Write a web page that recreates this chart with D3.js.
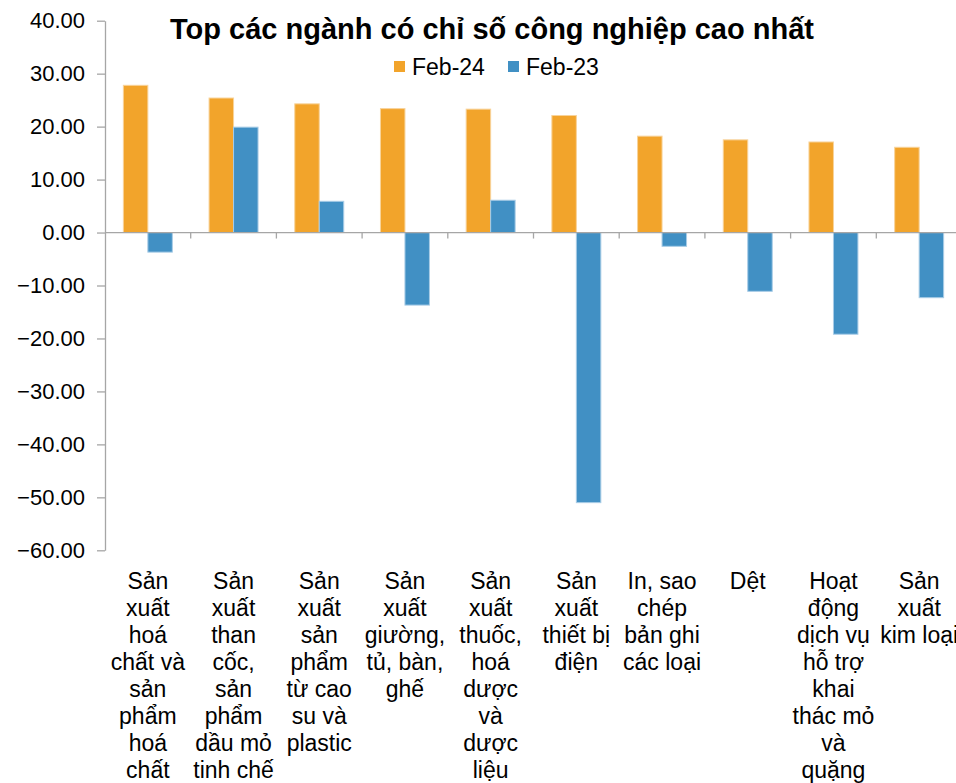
<!DOCTYPE html>
<html>
<head>
<meta charset="utf-8">
<script src="https://cdn.jsdelivr.net/npm/d3@7"></script>
<style>
  body { margin: 0; background: #fff; }
  svg { display: block; font-family: "Liberation Sans", Arial, sans-serif; }
</style>
</head>
<body>
<svg id="chart"></svg>
<script>
// Categories (line breaks as in the original labels)
const categories = [
  "Sản\nxuất\nhoá\nchất và\nsản\nphẩm\nhoá\nchất",
  "Sản\nxuất\nthan\ncốc,\nsản\nphẩm\ndầu mỏ\ntinh chế",
  "Sản\nxuất\nsản\nphẩm\ntừ cao\nsu và\nplastic",
  "Sản\nxuất\ngiường,\ntủ, bàn,\nghế",
  "Sản\nxuất\nthuốc,\nhoá\ndược\nvà\ndược\nliệu",
  "Sản\nxuất\nthiết bị\nđiện",
  "In, sao\nchép\nbản ghi\ncác loại",
  "Dệt",
  "Hoạt\nđộng\ndịch vụ\nhỗ trợ\nkhai\nthác mỏ\nvà\nquặng",
  "Sản\nxuất\nkim loại"
];

const seriesNames = ["Feb-24", "Feb-23"];
const feb24 = [27.8, 25.4, 24.3, 23.4, 23.3, 22.1, 18.2, 17.5, 17.1, 16.1];
const feb23 = [-3.7, 19.9, 5.9, -13.7, 6.1, -51.0, -2.6, -11.1, -19.2, -12.3];
const yTicks = [40, 30, 20, 10, 0, -10, -20, -30, -40, -50, -60];

const colors = { "Feb-24": "#F2A42B", "Feb-23": "#4190C4" };
const strokes = { "Feb-24": "#F8D39A", "Feb-23": "#A8CCE6" };

const width = 956, height = 783;
const plotLeft = 105, plotRight = 962;

const svg = d3.select("#chart").attr("width", width).attr("height", height);

const x0 = d3.scaleBand()
  .domain(d3.range(categories.length))
  .range([plotLeft, plotRight])
  .paddingInner(0).paddingOuter(0);

const x1 = d3.scaleBand()
  .domain(seriesNames)
  .range([0, x0.bandwidth()])
  .paddingInner(0).paddingOuter(0.75);

const y = d3.scaleLinear().domain([-60, 40]).range([550.3, 20.7]);

// Bars
const rows = categories.map((c, i) => ({ i, values: [
  { key: "Feb-24", v: feb24[i] }, { key: "Feb-23", v: feb23[i] } ] }));

svg.append("g").selectAll("g")
  .data(rows)
  .enter().append("g")
  .attr("transform", d => `translate(${x0(d.i)},0)`)
  .selectAll("rect")
  .data(d => d.values)
  .enter().append("rect")
  .attr("x", d => x1(d.key))
  .attr("width", x1.bandwidth())
  .attr("y", d => y(Math.max(0, d.v)))
  .attr("height", d => Math.abs(y(d.v) - y(0)))
  .attr("fill", d => colors[d.key])
  .attr("stroke", d => strokes[d.key])
  .attr("stroke-width", 1);

// Y axis
const yAxis = svg.append("g")
  .attr("transform", `translate(${plotLeft},0)`)
  .call(d3.axisLeft(y).tickValues(yTicks).tickFormat(d3.format(".2f")).tickSize(8).tickSizeOuter(0).tickPadding(12));
yAxis.select(".domain").attr("stroke", "#a6a6a6").attr("stroke-width", 1.3);
yAxis.selectAll(".tick line").attr("stroke", "#a6a6a6").attr("stroke-width", 1.3);
yAxis.selectAll("text")
  .attr("fill", "#000")
  .style("font-size", "22px")
  .style("font-family", "'Liberation Sans', Arial, sans-serif");

// Zero baseline with category ticks
const zeroY = y(0);
svg.append("line")
  .attr("x1", plotLeft).attr("x2", plotRight)
  .attr("y1", zeroY).attr("y2", zeroY)
  .attr("stroke", "#a6a6a6").attr("stroke-width", 1.3);
svg.append("g").selectAll("line")
  .data(d3.range(1, categories.length + 1))
  .enter().append("line")
  .attr("x1", d => plotLeft + d * x0.step())
  .attr("x2", d => plotLeft + d * x0.step())
  .attr("y1", zeroY).attr("y2", zeroY + 6)
  .attr("stroke", "#a6a6a6").attr("stroke-width", 1.3);

// Category labels below the plot
const labels = svg.append("g").selectAll("text")
  .data(categories)
  .enter().append("text")
  .attr("text-anchor", "middle")
  .attr("x", (d, i) => x0(i) + x0.bandwidth() / 2)
  .attr("y", 589)
  .style("font-size", "23px")
  .attr("fill", "#000");
labels.selectAll("tspan")
  .data(d => d.split("\n"))
  .enter().append("tspan")
  .attr("x", function () { return this.parentNode.getAttribute("x"); })
  .attr("dy", (d, i) => i === 0 ? 0 : 27)
  .text(d => d);

// Title
svg.append("text")
  .attr("x", 492).attr("y", 39)
  .attr("text-anchor", "middle")
  .style("font-size", "29px")
  .style("font-weight", "bold")
  .text("Top các ngành có chỉ số công nghiệp cao nhất");

// Legend
const legend = svg.append("g");
const legendX = [394, 508];
seriesNames.forEach((s, i) => {
  legend.append("rect")
    .attr("x", legendX[i]).attr("y", 61)
    .attr("width", 11).attr("height", 11)
    .attr("fill", colors[s]);
  legend.append("text")
    .attr("x", legendX[i] + 18).attr("y", 75)
    .style("font-size", "23px")
    .text(s);
});
</script>
</body>
</html>
